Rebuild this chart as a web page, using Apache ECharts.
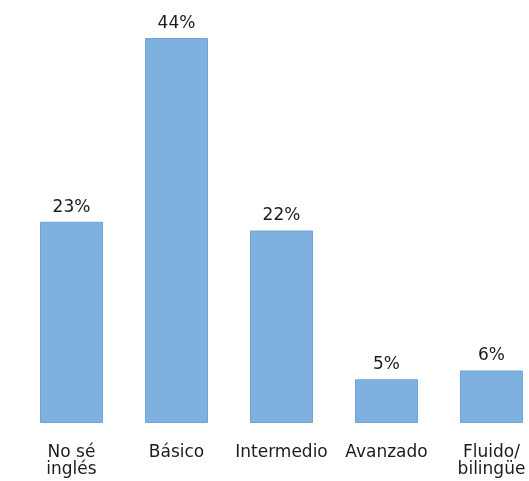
<!DOCTYPE html>
<html>
<head>
<meta charset="utf-8">
<script src="https://cdn.jsdelivr.net/npm/echarts@6/dist/echarts.min.js"></script>
<style>
  html, body { margin: 0; padding: 0; background: #ffffff; }
  #chart { width: 529px; height: 481px; }
</style>
</head>
<body>
<div id="chart"></div>
<script>
// Nivel de inglés declarado (porcentaje de respuestas)
const categories = ['No sé\ninglés', 'Básico', 'Intermedio', 'Avanzado', 'Fluido/\nbilingüe'];
const values = [23, 44, 22, 5, 6];

const chart = echarts.init(document.getElementById('chart'), null, { renderer: 'canvas' });

const textFont = '"DejaVu Sans", sans-serif';

chart.setOption({
  animation: false,
  backgroundColor: '#ffffff',
  grid: {
    left: 19,
    width: 525,
    top: 38,
    bottom: 58,
    containLabel: false,
    outerBoundsMode: 'none'
  },
  xAxis: {
    type: 'category',
    data: categories,
    axisLine: { show: false },
    axisTick: { show: false },
    axisLabel: {
      color: '#1c1c1c',
      fontFamily: textFont,
      fontSize: 17,
      lineHeight: 17,
      margin: 21,
      interval: 0,
      hideOverlap: false
    }
  },
  yAxis: {
    type: 'value',
    min: 0,
    max: 44,
    show: false
  },
  series: [{
    type: 'bar',
    data: values,
    barWidth: 63,
    itemStyle: {
      color: '#7EB1E0',
      borderColor: '#71A4D4',
      borderWidth: 1
    },
    label: {
      show: true,
      position: 'top',
      distance: 6,
      formatter: '{c}%',
      color: '#1c1c1c',
      fontFamily: textFont,
      fontSize: 17
    }
  }]
});
</script>
</body>
</html>
